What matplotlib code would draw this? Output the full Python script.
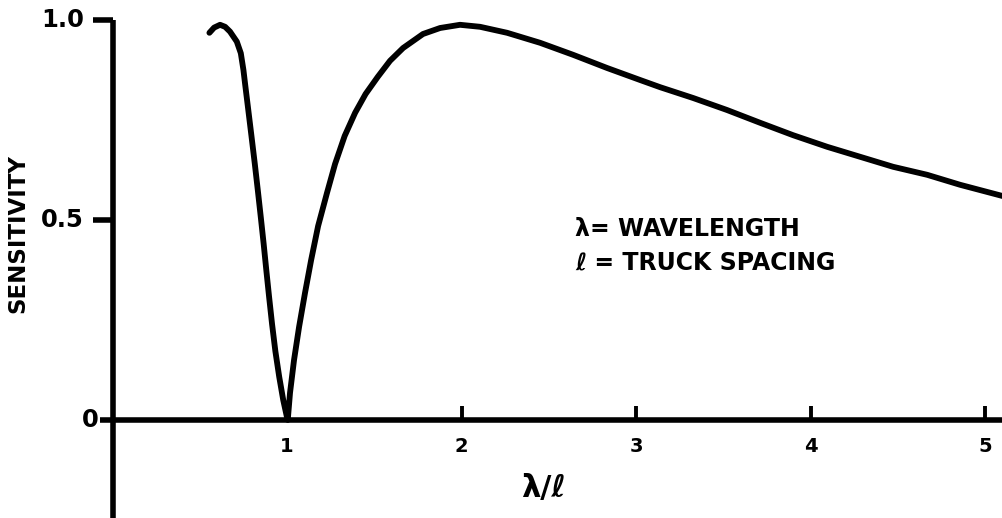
import matplotlib
matplotlib.use("Agg")
import matplotlib.pyplot as plt

plt.rcParams['font.family'] = ['DejaVu Sans']

# sensitivity vs wavelength / truck spacing
ratio = [0.555, 0.582, 0.616, 0.645, 0.673, 0.712, 0.735, 0.750, 0.759,
         0.777, 0.796, 0.815, 0.833, 0.850, 0.866, 0.881, 0.897, 0.914,
         0.933, 0.955, 0.978, 0.998, 1.004,
         1.017, 1.040, 1.069, 1.103, 1.138, 1.178, 1.229, 1.275, 1.330,
         1.390, 1.450, 1.520, 1.590, 1.665, 1.779, 1.877, 1.991, 2.106,
         2.261, 2.450, 2.639, 2.834, 3.023, 3.138, 3.327, 3.521, 3.711,
         3.900, 4.095, 4.284, 4.473, 4.668, 4.857, 5.10]
sensitivity = [0.968, 0.981, 0.988, 0.983, 0.971, 0.946, 0.917, 0.875, 0.842,
               0.778, 0.710, 0.641, 0.572, 0.505, 0.440, 0.375, 0.308, 0.240,
               0.172, 0.108, 0.050, 0.010, 0.0,
               0.068, 0.150, 0.233, 0.318, 0.400, 0.485, 0.568, 0.640, 0.710,
               0.768, 0.815, 0.858, 0.898, 0.930, 0.965, 0.980, 0.988, 0.983,
               0.968, 0.943, 0.913, 0.880, 0.850, 0.832, 0.805, 0.775, 0.743,
               0.712, 0.683, 0.658, 0.633, 0.613, 0.588, 0.560]

x_ticks = [1, 2, 3, 4, 5]
x_tick_labels = ['1', '2', '3', '4', '5']
y_ticks = [0, 0.5, 1.0]
y_tick_labels = ['0', '0.5', '1.0']

fig = plt.figure(figsize=(10.02, 5.18), dpi=100)
ax = fig.add_axes([0, 0, 1, 1])
ax.set_xlim(-0.645, 5.097)
ax.set_ylim(-0.245, 1.05)
ax.axis('off')

lw = 4.0
# axes drawn by hand, like the original drafting
ax.plot([0, 0], [1.0, -0.25], color='black', lw=lw, solid_capstyle='butt')
ax.plot([-0.072, 5.12], [0, 0], color='black', lw=lw, solid_capstyle='butt')
for yt in y_ticks[1:]:
    ax.plot([-0.11, 0], [yt, yt], color='black', lw=lw, solid_capstyle='butt')
for xt in x_ticks[1:]:
    ax.plot([xt, xt], [0, 0.036], color='black', lw=2.8, solid_capstyle='butt')

ax.plot(ratio, sensitivity, color='black', lw=4.2, solid_capstyle='round',
        solid_joinstyle='round')

for xt, lab in zip(x_ticks, x_tick_labels):
    ax.text(xt, -0.065, lab, ha='center', va='center', fontsize=14,
            fontweight='heavy')
for yt, lab in zip(y_ticks, y_tick_labels):
    pad = 0.078 if yt == 0 else 0.165
    ax.text(-pad, yt, lab, ha='right', va='center', fontsize=17.5,
            fontweight='heavy')

ax.text(2.467, -0.17, 'λ/ℓ', ha='center', va='center', fontsize=22,
        fontweight='heavy')
ax.text(-0.542, 0.465, 'SENSITIVITY', ha='center', va='center', rotation=90,
        fontsize=16.5, fontweight='heavy')
ax.text(2.65, 0.478, 'λ= WAVELENGTH', ha='left', va='center', fontsize=17,
        fontweight='heavy')
ax.text(2.65, 0.393, 'ℓ = TRUCK SPACING', ha='left', va='center', fontsize=17,
        fontweight='heavy')

fig.savefig('out.png', dpi=100)
